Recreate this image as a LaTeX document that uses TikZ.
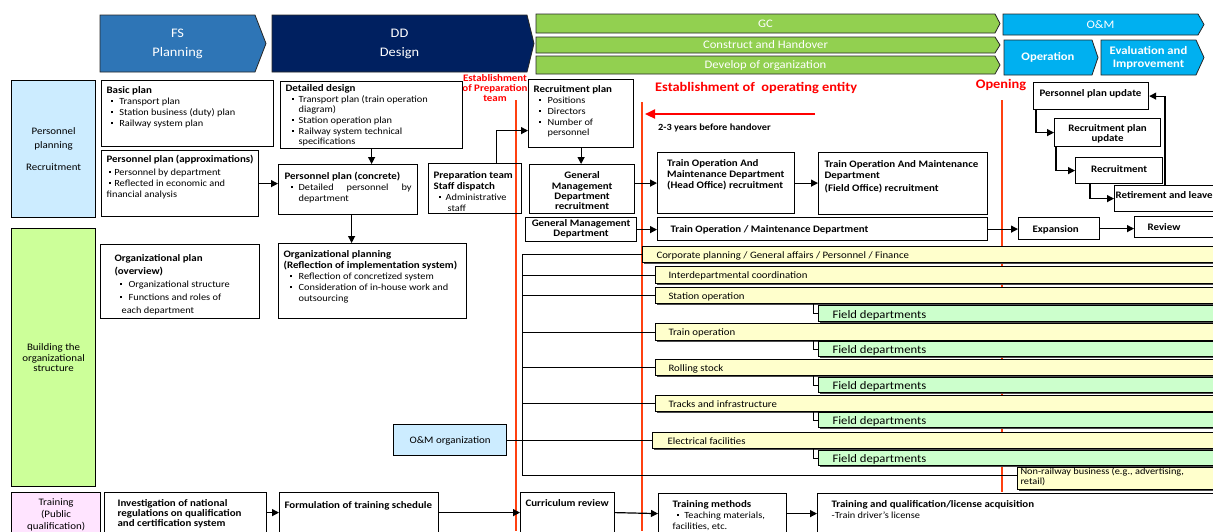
\documentclass[tikz,border=0pt]{standalone}
\usepackage{fontspec}
\setmainfont{Carlito}[FakeStretch=1.1]
\usetikzlibrary{arrows.meta,shadows}

\definecolor{fsblue}{RGB}{46,117,182}
\definecolor{ddnavy}{RGB}{0,32,96}
\definecolor{gcgreen}{RGB}{146,208,80}
\definecolor{omcyan}{RGB}{0,176,240}
\definecolor{paleblue}{RGB}{204,236,255}
\definecolor{palegreen}{RGB}{204,255,153}
\definecolor{palepink}{RGB}{255,228,255}
\definecolor{paleyellow}{RGB}{255,255,204}
\definecolor{fieldgreen}{RGB}{204,255,204}
\definecolor{mileline}{RGB}{255,64,16}
\definecolor{milered}{RGB}{255,0,0}

% font size (scaled to the stretched face) and leading
\newcommand\fz[2]{\fontsize{\fpeval{#1*1.045}}{#2}\selectfont}
\newcommand\tit[1]{{\fz{9.5}{11}\bfseries #1}}
\newcommand\bd{\rule[2.5pt]{2pt}{2pt}}
\newcommand\bii[2]{\hspace*{#1pt}\bd\hspace*{\dimexpr#2pt-0.3pt\relax}}

% text box: [style]{name}{x}{y}{w}{h}{side pad}{first baseline}{text}
\newcommand\tb[9][]{%
  \node[bx,#1,anchor=north west,inner xsep=#7pt,inner ysep=0pt] (#2) at (#3,#4)
  {\parbox[c][#6pt][t]{\dimexpr#5pt-#7pt-#7pt\relax}{\rule{0pt}{#8pt}#9}};}

% phase chevron: [text style]{name}{x0}{y0}{x body}{x tip}{y1}{fill}{text}
\newcommand\chev[9][]{%
  \draw[hdr,fill=#8] (#3,#4) -- (#5,#4) -- (#6,{(#4+#7)/2}) -- (#5,#7) -- (#3,#7) -- cycle;
  \node[hdrtxt,#1] (#2) at ({(#3+#5)/2},{(#4+#7)/2}) {#9};}

\tikzset{
  bx/.style={draw=black,line width=1.2pt,fill=white,font=\fz{9}{11}},
  hdr/.style={draw=black!85,line width=0.8pt},
  hdrtxt/.style={text=white,align=center,inner sep=0pt,font=\fz{12.5}{19}},
  ybx/.style={bx,line width=1pt,fill=paleyellow,font=\fz{9.4}{11},
    drop shadow={shadow xshift=1.6pt,shadow yshift=-1.6pt,opacity=1,fill=black!70}},
  gbx/.style={ybx,fill=fieldgreen,font=\fz{11}{12}},
  arr/.style={line width=1.2pt,-{Triangle[length=7pt,width=7pt]}},
  tl/.style={line width=1pt},
  mile/.style={draw=mileline,line width=1.8pt},
  milet/.style={text=milered,font=\bfseries\fz{12.5}{14},inner sep=0pt},
}

\begin{document}
\begin{tikzpicture}[x=1pt,y=-1pt]
\useasboundingbox (0,0) rectangle (1213,531);
\clip (0,0) rectangle (1213,531);

% ---- phases ----
\chev{fs}{100}{15}{255}{266}{72}{fsblue}{FS\\Planning}
\chev{dd}{272}{15}{527}{534}{72}{ddnavy}{DD\\Design}
\chev[font=\fz{11}{13}]{gc}{536}{14}{995}{1000}{33}{gcgreen}{GC}
\chev[font=\fz{11}{13}]{cnh}{536}{37}{995}{1000}{53}{gcgreen}{Construct and Handover}
\chev[font=\fz{11}{13}]{dvo}{536}{56}{995}{1000}{74}{gcgreen}{Develop of organization}
\chev[font=\fz{11}{13}]{om}{1003}{14}{1198}{1204}{35}{omcyan}{O\&M}
\chev[font=\bfseries\fz{11}{13}]{opn}{1004}{40}{1092}{1098}{75}{omcyan}{Operation}
\chev[font=\bfseries\fz{11}{13}]{evl}{1101}{40}{1196}{1204}{75}{omcyan}{Evaluation and\\Improvement}

% ---- milestone lines ----
\coordinate (ep1) at (516,100); \coordinate (ep2) at (516,531);
\coordinate (eo1) at (642,102); \coordinate (eo2) at (642,531);
\coordinate (op1) at (1002,100); \coordinate (op2) at (1002,492);
\draw[mile] (ep1) -- (ep2);
\draw[mile] (eo1) -- (eo2);
\draw[mile] (op1) -- (op2);

\node[milet,font=\bfseries\fz{9.5}{10},align=center] (estprep) at (495,88) {Establishment\\of Preparation\\team};
\node[milet,anchor=west] (estop) at (655,88) {Establishment of\ \ operating entity};
\node[milet] (opening) at (1001,85) {Opening};
\coordinate (arrS) at (815,114); \coordinate (arrE) at (645,114);
\draw[draw=milered,line width=2.3pt,-{Triangle[length=10pt,width=9pt]}] (arrS) -- (arrE);
\node[anchor=west,inner sep=0pt,font=\bfseries\fz{9}{10}] (yrs) at (658,128) {2-3 years before handover};

% ---- row headings ----
\node[bx,fill=paleblue,anchor=north west,minimum width=84pt,minimum height=137pt,inner sep=0pt,align=center,font=\fz{9.5}{14}] (cat1) at (11,80) {Personnel\\planning\\[8pt]Recruitment};
\node[bx,fill=palegreen,anchor=north west,minimum width=84pt,minimum height=258pt,inner sep=0pt,align=center,font=\fz{9.5}{10.5}] (cat2) at (11,228) {Building the\\organizational\\structure};
\tb[fill=palepink,font=\fz{9.5}{12}]{trc}{11}{492}{89}{60}{2}{13}{\centering Training\\(Public\\qualification)}

% ---- personnel planning / recruitment ----
\tb{basic}{101}{80}{172}{66}{5}{13}{\tit{Basic plan}\\ \bii{4}{7}Transport plan\\ \bii{4}{7}Station business (duty) plan\\ \bii{4}{7}Railway system plan}
\tb{ppa}{101}{150}{157}{66}{5}{12}{\tit{Personnel plan (approximations)}\\[2pt] \bii{2}{4}Personnel by department\\ \bii{2}{4}Reflected in economic and\\ financial analysis}
\tb[font=\fz{9}{10.6}]{dd}{280}{81}{182}{67}{5}{10}{\tit{Detailed design}\\ \bii{6}{5.4}Transport plan (train operation\\ \hspace*{13pt}diagram)\\ \bii{6}{5.4}Station operation plan\\ \bii{6}{5.4}Railway system technical\\ \hspace*{13pt}specifications}
\tb{ppc}{278}{164}{139}{50}{6}{15}{\tit{Personnel plan (concrete)}\\ \bii{6}{6.3}\makebox[113pt][l]{Detailed\hfill personnel\hfill by}\\ \hspace*{14pt}department}
\tb[fill=none]{prep}{428}{163}{93}{50}{5}{15}{\tit{Preparation team\\Staff dispatch}\\ \bii{5}{5.3}Administrative\\ \hspace*{14pt}staff}
\tb[font=\fz{9}{10.8}]{recplan}{528}{79}{105}{68}{5}{13}{\tit{Recruitment plan}\\ \bii{5}{7.3}Positions\\ \bii{5}{7.3}Directors\\ \bii{5}{7.3}Number of\\ \hspace*{14pt}personnel}
\tb[font=\bfseries\fz{9.5}{10.4}]{gmr}{529}{164}{105}{49}{2}{14}{\centering General\\Management\\Department\\recruitment}
\tb[font=\bfseries\fz{9.5}{10}]{gmd}{525}{217}{111}{24}{2}{8.5}{\centering General Management\\Department}
\tb[font=\bfseries\fz{9.5}{10.8}]{tomh}{657}{152}{137}{61}{9.5}{14}{Train Operation And\\Maintenance Department\\(Head Office) recruitment}
\tb[font=\bfseries\fz{9.5}{11}]{tomf}{818}{152}{169}{62}{6}{15}{Train Operation And Maintenance\\Department\\[2pt](Field Office) recruitment}
\tb[font=\bfseries\fz{9.5}{11}]{tom}{657}{217}{330}{23}{13}{14.5}{Train Operation / Maintenance Department}
\tb[font=\bfseries\fz{9.5}{11}]{exp}{1018}{217}{81}{22}{14}{15}{Expansion}
\tb[font=\bfseries\fz{9.5}{11}]{rev}{1134}{216}{90}{21}{13}{14}{Review}
\tb[font=\bfseries\fz{9.5}{11}]{ppu}{1033}{82}{115}{27}{6}{14}{Personnel plan update}
\tb[font=\bfseries\fz{9.5}{10}]{rpu}{1054}{118}{106}{28}{2}{13}{\centering Recruitment plan\\update}
\tb[font=\bfseries\fz{9.5}{11}]{rec}{1075}{157}{87}{26}{2}{15}{\centering Recruitment}
\tb[font=\bfseries\fz{9.5}{11}]{ret}{1114}{185}{110}{26}{1}{13}{Retirement and leave}

\draw[arr] (ppa.east) -- (ppa.east -| ppc.west);
\draw[arr] (dd.south) -- (dd.south |- ppc.north);
\draw[arr] ([xshift=21.5pt]prep.north) |- ([yshift=-17pt]recplan.west);
\draw[arr] (recplan.south) -- (recplan.south |- gmr.north);
\draw[arr] (gmr.east |- tomh.west) -- (tomh.west);
\draw[arr] (gmd.east) -- (gmd.east -| tom.west);
\draw[arr] (tomh.east) -- (tomh.east -| tomf.west);
\draw[arr] (tom.east) -- (tom.east -| exp.west);
\draw[arr] (exp.east) -- (exp.east -| rev.west);
\draw[arr] ([xshift=3pt]ppu.south west) |- (rpu.west);
\draw[arr] ([xshift=2pt]rpu.south west) |- (rec.west);
\draw[arr] ([xshift=15pt]rec.south west) |- (ret.west);
\draw[arr] ([xshift=51pt]ret.north west) |- (ppu.east);

% ---- organizational structure ----
\tb[font=\fz{9}{13}]{orgp}{100}{244}{159}{74}{14}{17}{\tit{Organizational plan\\(overview)}\\ \bii{5}{7.3}Organizational structure\\ \bii{5}{7.3}Functions and roles of\\ \hspace*{7pt}each department}
\tb[font=\fz{9}{11}]{orgpl}{278}{243}{188}{75}{5}{14}{\tit{Organizational planning\\(Reflection of implementation system)}\\ \bii{6}{7.3}Reflection of concretized system\\ \bii{6}{7.3}Consideration of in-house work and\\ \hspace*{15pt}outsourcing}
\draw[arr] ([xshift=3.5pt]ppc.south) -- ([xshift=3.5pt]ppc.south |- orgpl.north);
\tb[fill=paleblue,font=\fz{9.5}{11}]{omorg}{393}{424}{113}{31}{2}{19}{\centering O\&M organization}

\tb[ybx]{corp}{642}{246}{600}{16}{14}{11.5}{Corporate planning / General affairs / Personnel / Finance}
\tb[ybx]{inter}{655}{266}{600}{17}{13}{12}{Interdepartmental coordination}
\tb[ybx]{stat}{655}{287}{600}{16}{13}{11.5}{Station operation}
\tb[gbx]{fd1}{818}{305}{600}{16}{14}{12.5}{Field departments}
\tb[ybx]{trn}{655}{323}{600}{17}{13}{12}{Train operation}
\tb[gbx]{fd2}{818}{341}{600}{15}{14}{12}{Field departments}
\tb[ybx]{roll}{655}{359}{600}{16}{13}{11.5}{Rolling stock}
\tb[gbx]{fd3}{818}{377}{600}{15}{14}{12}{Field departments}
\tb[ybx]{trk}{655}{395}{600}{16}{13}{11.5}{Tracks and infrastructure}
\tb[gbx]{fd4}{818}{412}{600}{15}{14}{12}{Field departments}
\tb[ybx]{elec}{652}{432}{600}{16}{15}{11.5}{Electrical facilities}
\tb[gbx]{fd5}{818}{450}{600}{15}{14}{12}{Field departments}
\tb[ybx,font=\fz{9}{10}]{nonr}{1017}{467}{300}{22}{3}{5}{Non-railway business (e.g., advertising,\\retail)}

\coordinate (busx) at (522,0);
\coordinate (fx) at (813,0);
\coordinate (nrw) at ([yshift=3pt]nonr.west);
\draw[tl] (corp.west) -| (nrw -| busx) -- (nrw);
\foreach \n in {inter,stat,trn,roll,trk}
  \draw[tl] (\n.west -| busx) -- (\n.west);
\draw[tl] (omorg.east) -- (omorg.east -| elec.west);
\foreach \a/\b in {stat/fd1,trn/fd2,roll/fd3,trk/fd4,elec/fd5}
  \draw[tl] (\a.south -| fx) |- (\b.west);

% ---- training ----
\tb[font=\bfseries\fz{9.5}{10}]{inv}{104}{492}{162}{60}{13}{14}{Investigation of national\\regulations on qualification\\and certification system}
\tb[font=\bfseries\fz{9.5}{11}]{form}{279}{492}{159}{60}{5}{16}{Formulation of training schedule}
\tb[font=\bfseries\fz{9.5}{11}]{cur}{520}{492}{94}{60}{5}{14}{Curriculum review}
\tb[font=\fz{9}{11}]{tm}{658}{493}{128}{60}{14}{14}{\tit{Training methods}\\ \bii{4}{6}Teaching materials,\\ facilities, etc.}
\tb[font=\fz{9}{11}]{tq}{817}{493}{400}{60}{14}{14}{\tit{Training and qualification/license acquisition}\\ -Train driver's license}

\draw[arr] ([yshift=10pt]inv.east) -- ([yshift=10pt]form.west);
\draw[arr] ([yshift=10pt]form.east) -- ([yshift=10pt]cur.west);
\draw[arr] ([yshift=10pt]cur.east) -- ([yshift=10pt]tm.west);
\draw[arr] ([yshift=10pt]tm.east) -- ([yshift=10pt]tq.west);
\end{tikzpicture}
\end{document}
